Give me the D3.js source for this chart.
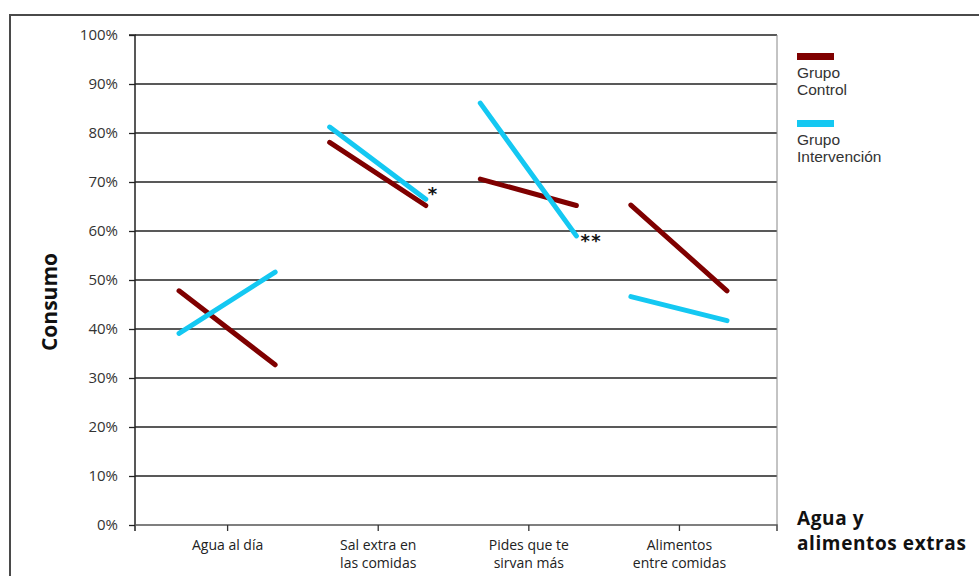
<!DOCTYPE html>
<html>
<head>
<meta charset="utf-8">
<script src="https://cdn.jsdelivr.net/npm/d3@7"></script>
<style>
  body { margin: 0; background: #fff; }
  svg { display: block; }
</style>
</head>
<body>
<svg id="chart" width="979" height="576"></svg>
<script>
// ---- data ----
const categories = [["Agua al día"], ["Sal extra en", "las comidas"], ["Pides que te", "sirvan más"], ["Alimentos", "entre comidas"]];
const controlStart = [47.8, 78.1, 70.6, 65.3];
const controlEnd   = [32.7, 65.2, 65.2, 47.8];
const interStart   = [39.1, 81.2, 86.1, 46.6];
const interEnd     = [51.6, 66.5, 59.0, 41.7];
const significance = ["", "*", "**", ""];
const yTicks = [0, 10, 20, 30, 40, 50, 60, 70, 80, 90, 100];
const seriesNames = [["Grupo", "Control"], ["Grupo", "Intervención"]];
const colors = ["#7f0000", "#14c8f2"];

(function() {
const svg = d3.select("#chart");
const pL = 135, pR = 777, pT = 35, pB = 525;

const x = d3.scaleLinear().domain([-0.6115, 3.651]).range([pL, pR]);
const y = d3.scaleLinear().domain([0, 100]).range([pB, pT]);
const half = 0.319;

// outer frame
svg.append("path").attr("d", "M10,580 L10,15 L985,15")
  .attr("fill", "none").attr("stroke", "#4a4a4a").attr("stroke-width", 2);

// gridlines
svg.append("g").selectAll("line").data(yTicks.filter(d => d > 0)).join("line")
  .attr("x1", pL).attr("x2", pR)
  .attr("y1", d => y(d)).attr("y2", d => y(d))
  .attr("stroke", "#222").attr("stroke-width", 1.3);

// right border
svg.append("line").attr("x1", pR).attr("x2", pR).attr("y1", pT).attr("y2", pB + 6)
  .attr("stroke", "#888").attr("stroke-width", 1);

// y axis
const yAxis = d3.axisLeft(y).tickValues(yTicks).tickFormat(d => d + "%").tickSize(6).tickPadding(11);
const gy = svg.append("g").attr("transform", `translate(${pL},0)`).call(yAxis);
gy.select(".domain").attr("stroke", "#222").attr("stroke-width", 1.5).attr("d", `M-6,${pT}H0V${pB + 6}`);
gy.selectAll(".tick line").attr("stroke", "#222").attr("stroke-width", 1.3);
gy.selectAll(".tick text").attr("font-family", "Open Sans, sans-serif").attr("font-size", 15).attr("fill", "#333");

// x axis
const xAxis = d3.axisBottom(x).tickValues(d3.range(categories.length)).tickFormat("").tickSize(6);
const gx = svg.append("g").attr("transform", `translate(0,${pB})`).call(xAxis);
gx.select(".domain").attr("stroke", "#555").attr("stroke-width", 1.5).attr("d", `M${pL},0H${pR}V6`);
gx.selectAll(".tick line").attr("stroke", "#333").attr("stroke-width", 1.3);
gx.selectAll(".tick").each(function(d) {
  const t = d3.select(this).append("text").attr("fill", "#222")
    .attr("font-family", "Open Sans, sans-serif").attr("font-size", 14)
    .attr("text-anchor", "middle");
  categories[d].forEach((line, i) => {
    t.append("tspan").attr("x", 0).attr("y", 25 + i * 17.5).text(line);
  });
});

// series lines
const series = [
  { s: controlStart, e: controlEnd, c: colors[0] },
  { s: interStart, e: interEnd, c: colors[1] }
];
series.forEach(ser => {
  svg.append("g").selectAll("line").data(d3.range(categories.length)).join("line")
    .attr("x1", i => x(i - half)).attr("x2", i => x(i + half))
    .attr("y1", i => y(ser.s[i])).attr("y2", i => y(ser.e[i]))
    .attr("stroke", ser.c).attr("stroke-width", 5).attr("stroke-linecap", "round");
});

// significance marks
svg.append("g").selectAll("text").data(d3.range(categories.length).filter(i => significance[i])).join("text")
  .attr("x", i => x(i + half) + (i === 1 ? 2 : 4))
  .attr("y", i => y(Math.min(interEnd[i], controlEnd[i])) + (i === 1 ? -6 : 11))
  .attr("font-family", "DejaVu Sans, sans-serif").attr("font-size", 18).attr("font-weight", "bold").attr("fill", "#111")
  .attr("letter-spacing", 1.5)
  .text(i => significance[i]);

// axis titles
svg.append("text").attr("transform", "translate(57,302) rotate(-90)")
  .attr("text-anchor", "middle").attr("font-family", "Open Sans, sans-serif")
  .attr("font-weight", "bold").attr("font-size", 21).attr("fill", "#111").text("Consumo");

const xt = svg.append("text").attr("font-family", "Open Sans, sans-serif")
  .attr("font-weight", "bold").attr("font-size", 19).attr("fill", "#111").attr("letter-spacing", 0.6);
xt.append("tspan").attr("x", 797).attr("y", 525).text("Agua y");
xt.append("tspan").attr("x", 797).attr("y", 550).text("alimentos extras");

// legend
const lg = svg.append("g").attr("font-family", "Arial, Liberation Sans, sans-serif").attr("font-size", 15.5).attr("fill", "#333");
seriesNames.forEach((nm, i) => {
  const oy = 53 + i * 67;
  lg.append("rect").attr("x", 797).attr("y", oy).attr("width", 37).attr("height", 7).attr("fill", colors[i]);
  nm.forEach((line, j) => {
    lg.append("text").attr("x", 797).attr("y", oy + 25 + j * 17).text(line);
  });
});
})();
</script>
</body>
</html>
